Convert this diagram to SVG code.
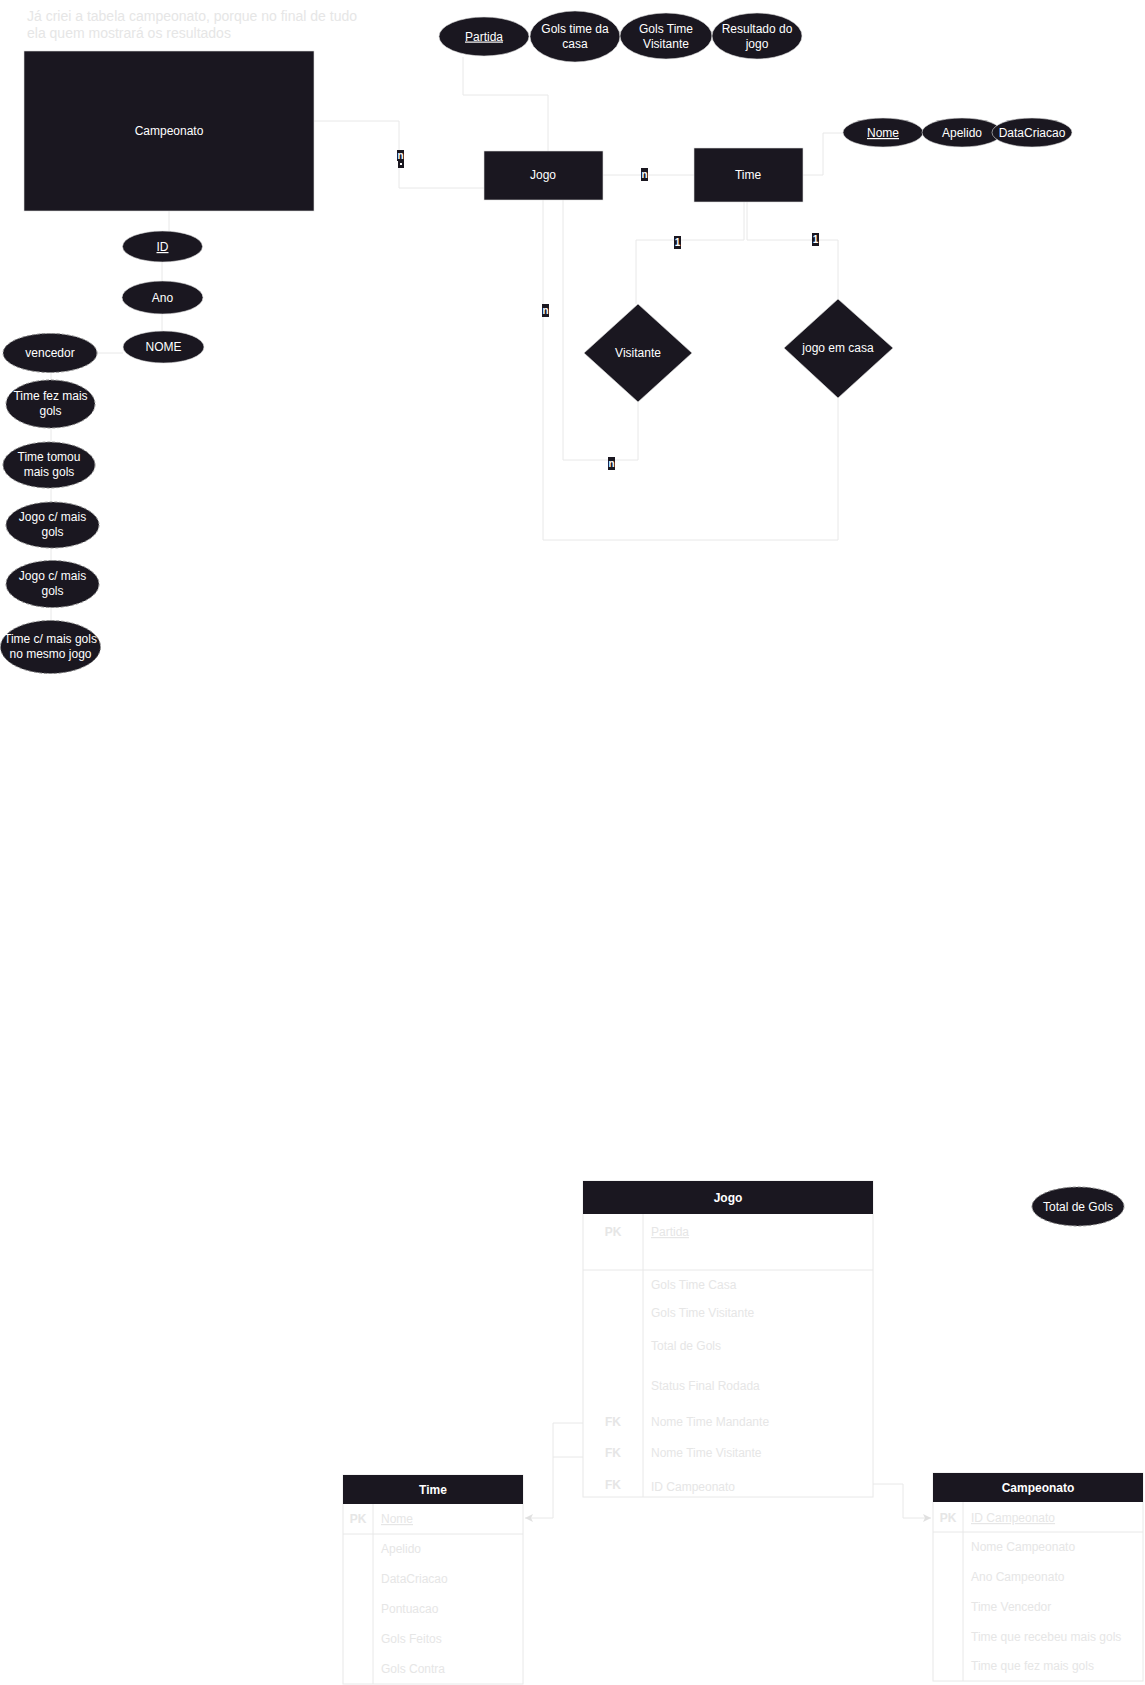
<svg xmlns="http://www.w3.org/2000/svg" width="1145" height="1685" viewBox="0 0 1145 1685">
<style>
text{font-family:"Liberation Sans",Arial,sans-serif;font-size:12px}
.w{fill:#ffffff;text-anchor:middle}
.ent{fill:#1a1720;stroke:#dddddd;stroke-width:0.6}
.att{fill:#1a1720;stroke:#dddddd;stroke-width:0.6}
.der{fill:#1a1720;stroke:#888888;stroke-width:1;stroke-dasharray:3 2}
.ln{fill:none;stroke:#e8e8e8;stroke-width:1}
.lbb{fill:#1a1720}
.lbt{fill:#ffffff;font-size:10px;font-weight:bold;text-anchor:middle}
.u{text-decoration:underline}
.note{fill:#e6e6e6;font-size:14px}
.tb{fill:#ffffff;stroke:#e8e8e8;stroke-width:1}
.th{fill:#1a1720}
.tt{fill:#e6e6e6}
.tk{fill:#e6e6e6;text-anchor:middle;font-weight:bold}
.b{font-weight:bold}
</style>
<defs>
<marker id="arr" markerWidth="10" markerHeight="10" refX="8" refY="4" orient="auto" markerUnits="userSpaceOnUse">
<path d="M0,0 L8,4 L0,8 L2,4 Z" fill="#e0e0e0"/>
</marker>
</defs>

<text class="note" x="27" y="21">Já criei a tabela campeonato, porque no final de tudo</text>
<text class="note" x="27" y="38">ela quem mostrará os resultados</text>

<g id="connectors">
<path class="ln" d="M314,121 H399 V188 H484"/>
<path class="ln" d="M463,57 V95 H548 V151"/>
<path class="ln" d="M603,175 H694"/>
<path class="ln" d="M803,175 H823 V133 H843"/>
<path class="ln" d="M543,200 V540 H838 V398"/>
<path class="ln" d="M563,200 V460 H638 V402"/>
<path class="ln" d="M744,202 V240 H636 V304"/>
<path class="ln" d="M747,202 V240 H838 V299"/>
<path class="ln" d="M169,211 V231"/>
<path class="ln" d="M162,262 V281"/>
<path class="ln" d="M162,314 V331"/>
<path class="ln" d="M97,353 H123"/>
<path class="ln" d="M51,373 V381 M51,428 V442 M51,488 V502 M51,548 V561 M51,608 V621"/>
<path class="ln" d="M583,1423 H553 V1518 H525" marker-end="url(#arr)"/>
<path class="ln" d="M583,1457 H553"/>
<path class="ln" d="M873,1484 H903 V1518 H931" marker-end="url(#arr)"/>
<rect class="lbb" x="397" y="150" width="7" height="11"/>
<text class="lbt" x="400.5" y="159">n</text>
<rect class="lbb" x="398" y="161" width="6" height="7"/>
<rect x="400" y="163" width="2" height="2" fill="#ffffff"/>
<rect class="lbb" x="641" y="168" width="7" height="13"/>
<text class="lbt" x="644.5" y="178">n</text>
<rect class="lbb" x="542" y="304" width="7" height="13"/>
<text class="lbt" x="545.5" y="314">n</text>
<rect class="lbb" x="608" y="457" width="7" height="13"/>
<text class="lbt" x="611.5" y="467">n</text>
<rect class="lbb" x="674" y="236" width="7" height="13"/>
<text class="lbt" x="677.5" y="246">1</text>
<rect class="lbb" x="812" y="233" width="7" height="13"/>
<text class="lbt" x="815.5" y="243">1</text>
</g>

<g id="campeonato-entity">
<rect class="ent" x="24" y="51" width="290" height="160"/>
<text class="w" x="169" y="135">Campeonato</text>
</g>
<g id="jogo-entity">
<rect class="ent" x="484" y="151" width="119" height="49"/>
<text class="w" x="543" y="179">Jogo</text>
</g>
<g id="time-entity">
<rect class="ent" x="694" y="148" width="109" height="54"/>
<text class="w" x="748" y="179">Time</text>
</g>

<g id="attr-partida"><ellipse class="att" cx="484" cy="36.5" rx="45" ry="19.5"/><text class="w u" x="484" y="40.5">Partida</text></g>
<g id="attr-gols-casa"><ellipse class="att" cx="575" cy="36.5" rx="45" ry="25.5"/><text class="w" x="575" y="33">Gols time da</text><text class="w" x="575" y="48">casa</text></g>
<g id="attr-gols-visitante"><ellipse class="att" cx="666" cy="36" rx="46" ry="23"/><text class="w" x="666" y="33">Gols Time</text><text class="w" x="666" y="48">Visitante</text></g>
<g id="attr-resultado"><ellipse class="att" cx="757" cy="36" rx="45" ry="23"/><text class="w" x="757" y="33">Resultado do</text><text class="w" x="757" y="48">jogo</text></g>

<g id="attr-nome"><ellipse class="att" cx="883" cy="132.5" rx="40" ry="14.5"/><text class="w u" x="883" y="137">Nome</text></g>
<g id="attr-apelido"><ellipse class="att" cx="962" cy="132.5" rx="40" ry="14.5"/><text class="w" x="962" y="137">Apelido</text></g>
<g id="attr-datacriacao"><ellipse class="att" cx="1032" cy="132.5" rx="40" ry="14.5"/><text class="w" x="1032" y="137">DataCriacao</text></g>

<g id="rel-visitante"><polygon class="ent" points="638,304 692,353 638,402 584,353"/><text class="w" x="638" y="357">Visitante</text></g>
<g id="rel-jogo-em-casa"><polygon class="ent" points="838,299 893,348 838,398 784,348"/><text class="w" x="838" y="352">jogo em casa</text></g>

<g id="attr-id"><ellipse class="att" cx="162.5" cy="246.5" rx="40" ry="15.5"/><text class="w u" x="162.5" y="251">ID</text></g>
<g id="attr-ano"><ellipse class="att" cx="162.5" cy="297.5" rx="40.5" ry="16.5"/><text class="w" x="162.5" y="302">Ano</text></g>
<g id="attr-nome-camp"><ellipse class="att" cx="163.5" cy="347" rx="40.5" ry="16"/><text class="w" x="163.5" y="351">NOME</text></g>

<g id="attr-vencedor"><ellipse class="der" cx="50" cy="353" rx="47" ry="19.5"/><text class="w" x="50" y="357">vencedor</text></g>
<g id="attr-fez-mais"><ellipse class="der" cx="50.5" cy="404" rx="44.5" ry="24"/><text class="w" x="50.5" y="400">Time fez mais</text><text class="w" x="50.5" y="415">gols</text></g>
<g id="attr-tomou-mais"><ellipse class="der" cx="49" cy="465" rx="46" ry="23"/><text class="w" x="49" y="461">Time tomou</text><text class="w" x="49" y="476">mais gols</text></g>
<g id="attr-jogo-mais-1"><ellipse class="der" cx="52.5" cy="525" rx="46.5" ry="23"/><text class="w" x="52.5" y="521">Jogo c/ mais</text><text class="w" x="52.5" y="536">gols</text></g>
<g id="attr-jogo-mais-2"><ellipse class="der" cx="52.5" cy="584" rx="46.5" ry="23.5"/><text class="w" x="52.5" y="580">Jogo c/ mais</text><text class="w" x="52.5" y="595">gols</text></g>
<g id="attr-mesmo-jogo"><ellipse class="der" cx="50.5" cy="647" rx="50" ry="26.5"/><text class="w" x="50.5" y="643">Time c/ mais gols</text><text class="w" x="50.5" y="658">no mesmo jogo</text></g>

<g id="attr-total-gols"><ellipse class="der" cx="1078" cy="1206.5" rx="46" ry="19.5"/><text class="w" x="1078" y="1211">Total de Gols</text></g>

<g id="table-jogo">
<rect class="tb" x="583" y="1181" width="290" height="316"/>
<rect class="th" x="583" y="1181" width="290" height="33"/>
<text class="w b" x="728" y="1202">Jogo</text>
<path class="ln" d="M583,1270 H873 M643,1214 V1497"/>
<text class="tk" x="613" y="1236">PK</text>
<text class="tt u" x="651" y="1236">Partida</text>
<text class="tt" x="651" y="1289">Gols Time Casa</text>
<text class="tt" x="651" y="1317">Gols Time Visitante</text>
<text class="tt" x="651" y="1350">Total de Gols</text>
<text class="tt" x="651" y="1390">Status Final Rodada</text>
<text class="tk" x="613" y="1426">FK</text>
<text class="tt" x="651" y="1426">Nome Time Mandante</text>
<text class="tk" x="613" y="1457">FK</text>
<text class="tt" x="651" y="1457">Nome Time Visitante</text>
<text class="tk" x="613" y="1489">FK</text>
<text class="tt" x="651" y="1491">ID Campeonato</text>
</g>

<g id="table-time">
<rect class="tb" x="343" y="1475" width="180" height="209"/>
<rect class="th" x="343" y="1475" width="180" height="29"/>
<text class="w b" x="433" y="1494">Time</text>
<path class="ln" d="M343,1534 H523 M373,1504 V1684"/>
<text class="tk" x="358" y="1523">PK</text>
<text class="tt u" x="381" y="1523">Nome</text>
<text class="tt" x="381" y="1553">Apelido</text>
<text class="tt" x="381" y="1583">DataCriacao</text>
<text class="tt" x="381" y="1613">Pontuacao</text>
<text class="tt" x="381" y="1643">Gols Feitos</text>
<text class="tt" x="381" y="1673">Gols Contra</text>
</g>

<g id="table-campeonato">
<rect class="tb" x="933" y="1473" width="210" height="208"/>
<rect class="th" x="933" y="1473" width="210" height="29"/>
<text class="w b" x="1038" y="1492">Campeonato</text>
<path class="ln" d="M933,1532 H1143 M963,1502 V1681"/>
<text class="tk" x="948" y="1522">PK</text>
<text class="tt u" x="971" y="1522">ID Campeonato</text>
<text class="tt" x="971" y="1551">Nome Campeonato</text>
<text class="tt" x="971" y="1581">Ano Campeonato</text>
<text class="tt" x="971" y="1611">Time Vencedor</text>
<text class="tt" x="971" y="1641">Time que recebeu mais gols</text>
<text class="tt" x="971" y="1670">Time que fez mais gols</text>
</g>
</svg>
